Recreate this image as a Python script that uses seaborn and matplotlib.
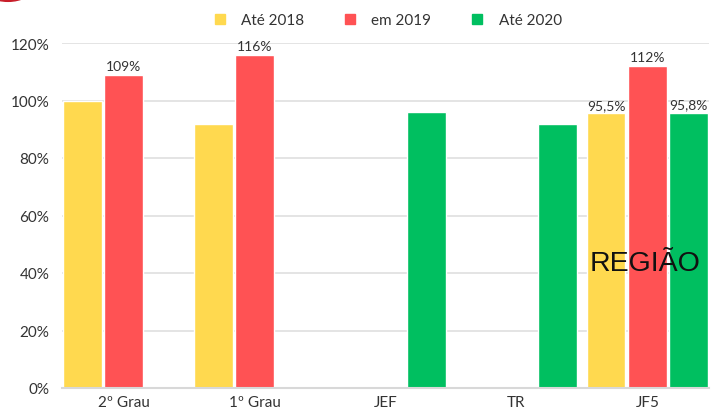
import pandas as pd
import seaborn as sns
import matplotlib.pyplot as plt
from matplotlib.lines import Line2D
from matplotlib.patches import Circle

# data
categorias = ['2º Grau', '1º Grau', 'JEF', 'TR', 'JF5']
series = ['Até 2018', 'em 2019', 'Até 2020']
ate_2018 = [100, 92, None, None, 95.5]
em_2019 = [109, 116, None, None, 112]
ate_2020 = [None, None, 96, 92, 95.8]
rotulos = {('em 2019', '2º Grau'): '109%', ('em 2019', '1º Grau'): '116%',
           ('Até 2018', 'JF5'): '95,5%', ('em 2019', 'JF5'): '112%',
           ('Até 2020', 'JF5'): '95,8%'}
cores = ['#FFD94F', '#FF5254', '#00BF60']

rows = []
for s, vals in zip(series, [ate_2018, em_2019, ate_2020]):
    for c, v in zip(categorias, vals):
        if v is not None:
            rows.append({'cat': c, 'serie': s, 'valor': v})
df = pd.DataFrame(rows)

sns.set_style('white')
plt.rcParams['font.family'] = ['Lato', 'DejaVu Sans']

fig = plt.figure(figsize=(7.15, 4.10), dpi=100)
ax = fig.add_axes([62/715, 1 - 389/410, (709-62)/715, (389-44)/410])

sns.barplot(data=df, x='cat', y='valor', hue='serie', order=categorias,
            hue_order=series, palette=cores, width=0.94, gap=0.07,
            saturation=1, ax=ax, legend=False, errorbar=None)

ax.set_xlim(-0.47, 4.47)
ax.set_ylim(0, 120)
ax.set_yticks(range(0, 121, 20))
ax.set_yticklabels([f'{t}%' for t in range(0, 121, 20)])
ax.yaxis.grid(True, color='#E2E2E2', linewidth=1.3)
ax.set_axisbelow(True)
for sp in ['top', 'right', 'left']:
    ax.spines[sp].set_visible(False)
ax.spines['bottom'].set_color('#D8D8D8')
ax.spines['bottom'].set_linewidth(1.5)
ax.tick_params(axis='both', length=0, labelsize=11, colors='#333333')
ax.tick_params(axis='y', pad=9)
ax.tick_params(axis='x', pad=5)
ax.set_xlabel('')
ax.set_ylabel('')

# rotulos das barras
for cont, s in zip(ax.containers, series):
    sub = df[df.serie == s]
    labs = [rotulos.get((s, c), '') for c in sub['cat']]
    ax.bar_label(cont, labels=labs, padding=2, fontsize=10, color='#333333')

# legenda
handles = [Line2D([], [], marker='s', linestyle='', markersize=7, color=c) for c in cores]
fig.legend(handles, series, loc='center', bbox_to_anchor=(383/715, 1 - 21/410),
           ncol=3, frameon=False, fontsize=11, handletextpad=0.4,
           columnspacing=2.0, labelcolor='#333333')

ax.text(3.98, 41, 'REGIÃO', fontsize=20.5, family='Liberation Sans',
        ha='center', va='baseline', color='#111111')

# circulo decorativo
fig.patches.append(Circle((8/715, 1 + 12/410), 0.035, transform=fig.transFigure,
                          color='#C81E2A', clip_on=False))

fig.savefig('out.png', dpi=100)
